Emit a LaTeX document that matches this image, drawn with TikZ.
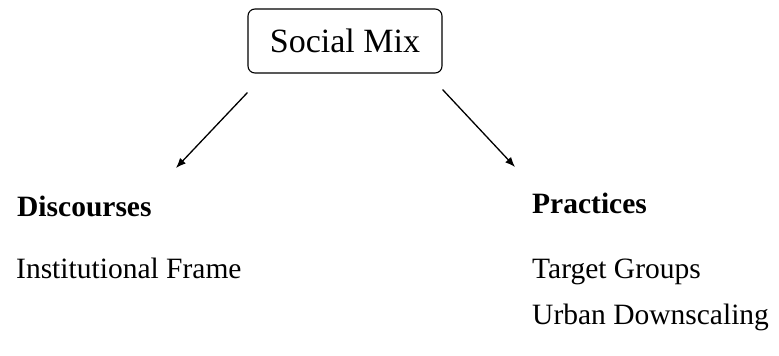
\documentclass[tikz,border=0pt]{standalone}
\usepackage{fontspec}
\setmainfont{Liberation Serif}
\usetikzlibrary{arrows.meta,positioning}

\begin{document}
\begin{tikzpicture}[x=1pt,y=-1pt,
  topic/.style={draw,rounded corners=7pt,minimum width=194pt,minimum height=64pt,line width=1.1pt,font=\fontsize{34}{40}\selectfont},
  item/.style={anchor=base west,inner sep=0pt,font=\fontsize{29.5}{35}\selectfont},
  head/.style={item,font=\fontsize{29.5}{35}\selectfont\bfseries},
  link/.style={-{Latex[length=10pt,width=8pt]},line width=1.3pt}]
\useasboundingbox (0,0) rectangle (779,356);
% top box
\node[topic] (mix) at (345,41) {Social Mix};
% left column
\node[head] (disc) at (17,216) {Discourses};
\node[item] (inst) at (16,278) {Institutional Frame};
% right column
\node[head] (prac) at (532,213) {Practices};
\node[item] (target) at (532,278) {Target Groups};
\node[item] (urban) at (532,324) {Urban Downscaling};
% arrows
\coordinate (discend) at (176,168);
\coordinate (pracend) at (515,167);
\draw[link] ([yshift=-19pt]mix.south west) -- (discend);
\draw[link] ([yshift=-16pt]mix.south east) -- (pracend);
\end{tikzpicture}
\end{document}
